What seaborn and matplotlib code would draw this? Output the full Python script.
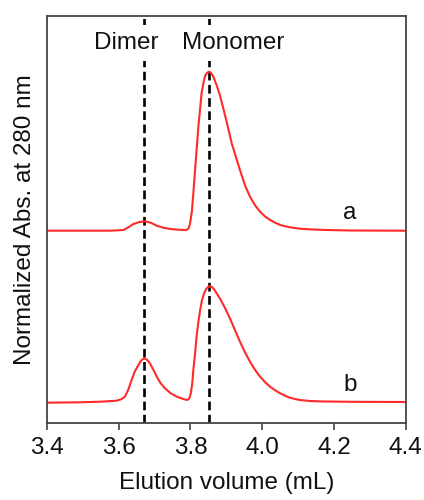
import numpy as np
import pandas as pd
import matplotlib
matplotlib.use('Agg')
import matplotlib.pyplot as plt
import seaborn as sns

# curve a (upper trace)
vol_a = [3.400, 3.492, 3.576, 3.613, 3.627, 3.641, 3.657, 3.673, 3.690, 3.706, 3.725,
         3.743, 3.770, 3.789, 3.795, 3.799, 3.804, 3.808, 3.815, 3.822, 3.827, 3.831,
         3.836, 3.840, 3.845, 3.851, 3.857, 3.864, 3.872, 3.882, 3.8915, 3.901, 3.915,
         3.927, 3.938, 3.952, 3.966, 3.980, 3.994, 4.008, 4.022, 4.036, 4.050, 4.064,
         4.077, 4.105, 4.133, 4.170, 4.245, 4.400]
abs_a = [1.926, 1.926, 1.926, 1.933, 1.960, 1.993, 2.012, 2.020, 2.005, 1.976, 1.955,
         1.943, 1.935, 1.933, 1.950, 2.000, 2.120, 2.300, 2.633, 2.966, 3.150, 3.300,
         3.400, 3.466, 3.500, 3.516, 3.505, 3.466, 3.390, 3.283, 3.150, 3.013, 2.800,
         2.660, 2.533, 2.380, 2.266, 2.180, 2.116, 2.068, 2.033, 2.006, 1.983, 1.971,
         1.960, 1.946, 1.940, 1.934, 1.928, 1.926]

# curve b (lower trace)
vol_b = [3.400, 3.492, 3.548, 3.594, 3.607, 3.617, 3.626, 3.636, 3.645, 3.655, 3.663,
         3.671, 3.679, 3.687, 3.696, 3.706, 3.717, 3.729, 3.745, 3.762, 3.780, 3.791,
         3.797, 3.801, 3.805, 3.808, 3.813, 3.817, 3.822, 3.827, 3.832, 3.838, 3.844,
         3.850, 3.855, 3.860, 3.866, 3.873, 3.882, 3.896, 3.910, 3.924, 3.938, 3.952,
         3.966, 3.980, 3.994, 4.008, 4.022, 4.036, 4.050, 4.064, 4.077, 4.091, 4.105,
         4.133, 4.161, 4.250, 4.400]
abs_b = [0.206, 0.210, 0.216, 0.226, 0.240, 0.266, 0.330, 0.433, 0.520, 0.583, 0.630,
         0.650, 0.635, 0.600, 0.540, 0.466, 0.400, 0.350, 0.300, 0.266, 0.243, 0.233,
         0.250, 0.300, 0.400, 0.533, 0.700, 0.866, 1.010, 1.133, 1.230, 1.300, 1.345,
         1.366, 1.370, 1.363, 1.340, 1.300, 1.250, 1.155, 1.050, 0.933, 0.816, 0.710,
         0.616, 0.535, 0.466, 0.411, 0.366, 0.330, 0.300, 0.276, 0.256, 0.243, 0.233,
         0.223, 0.219, 0.215, 0.213]

peak_pos = [3.671, 3.852]
peak_names = ['Dimer', 'Monomer']
trace_names = ['a', 'b']
xticks = [3.4, 3.6, 3.8, 4.0, 4.2, 4.4]

sns.set_style('white')
plt.rcParams['font.family'] = ['Liberation Sans', 'DejaVu Sans']
fs = 17.5

fig = plt.figure(figsize=(4.24, 5.0), dpi=100)
ax = fig.add_axes([0.1108, 0.1534, 0.846, 0.8152])

df = pd.concat([
    pd.DataFrame({'vol': vol_a, 'abs': abs_a, 'trace': 'a'}),
    pd.DataFrame({'vol': vol_b, 'abs': abs_b, 'trace': 'b'}),
])
sns.lineplot(data=df, x='vol', y='abs', units='trace', estimator=None, sort=False,
             color='#ff2a2a', linewidth=1.5, ax=ax, legend=False)

for x in peak_pos:
    ax.axvline(x, color='black', linestyle=(0, (3.3, 1.7)), linewidth=1.9, zorder=1)

ax.text(3.622, 3.80, peak_names[0], ha='center', va='center', fontsize=fs,
        color='#111111', zorder=5,
        bbox=dict(facecolor='white', edgecolor='none', pad=5))
ax.text(3.92, 3.80, peak_names[1], ha='center', va='center', fontsize=fs,
        color='#111111', zorder=5,
        bbox=dict(facecolor='white', edgecolor='none', pad=5))

ax.text(4.245, 2.10, trace_names[0], ha='center', va='center', fontsize=fs, color='#111111')
ax.text(4.245, 0.38, trace_names[1], ha='center', va='center', fontsize=fs, color='#111111')

ax.set_xlim(3.4, 4.4)
ax.set_ylim(0, 4.076)
ax.set_xticks(xticks)
ax.set_xticklabels([f'{t:.1f}' for t in xticks])
ax.set_yticks([])
ax.tick_params(axis='x', direction='out', length=5, width=1.2, color='#444444',
               labelsize=fs, labelcolor='#111111', pad=5, bottom=True)
for s in ax.spines.values():
    s.set_color('#444444')
    s.set_linewidth(1.3)

ax.set_xlabel('Elution volume (mL)', fontsize=fs, color='#111111', labelpad=9)
ax.set_ylabel('Normalized Abs. at 280 nm', fontsize=fs, color='#111111', labelpad=8)

fig.savefig('out.png', dpi=100)
